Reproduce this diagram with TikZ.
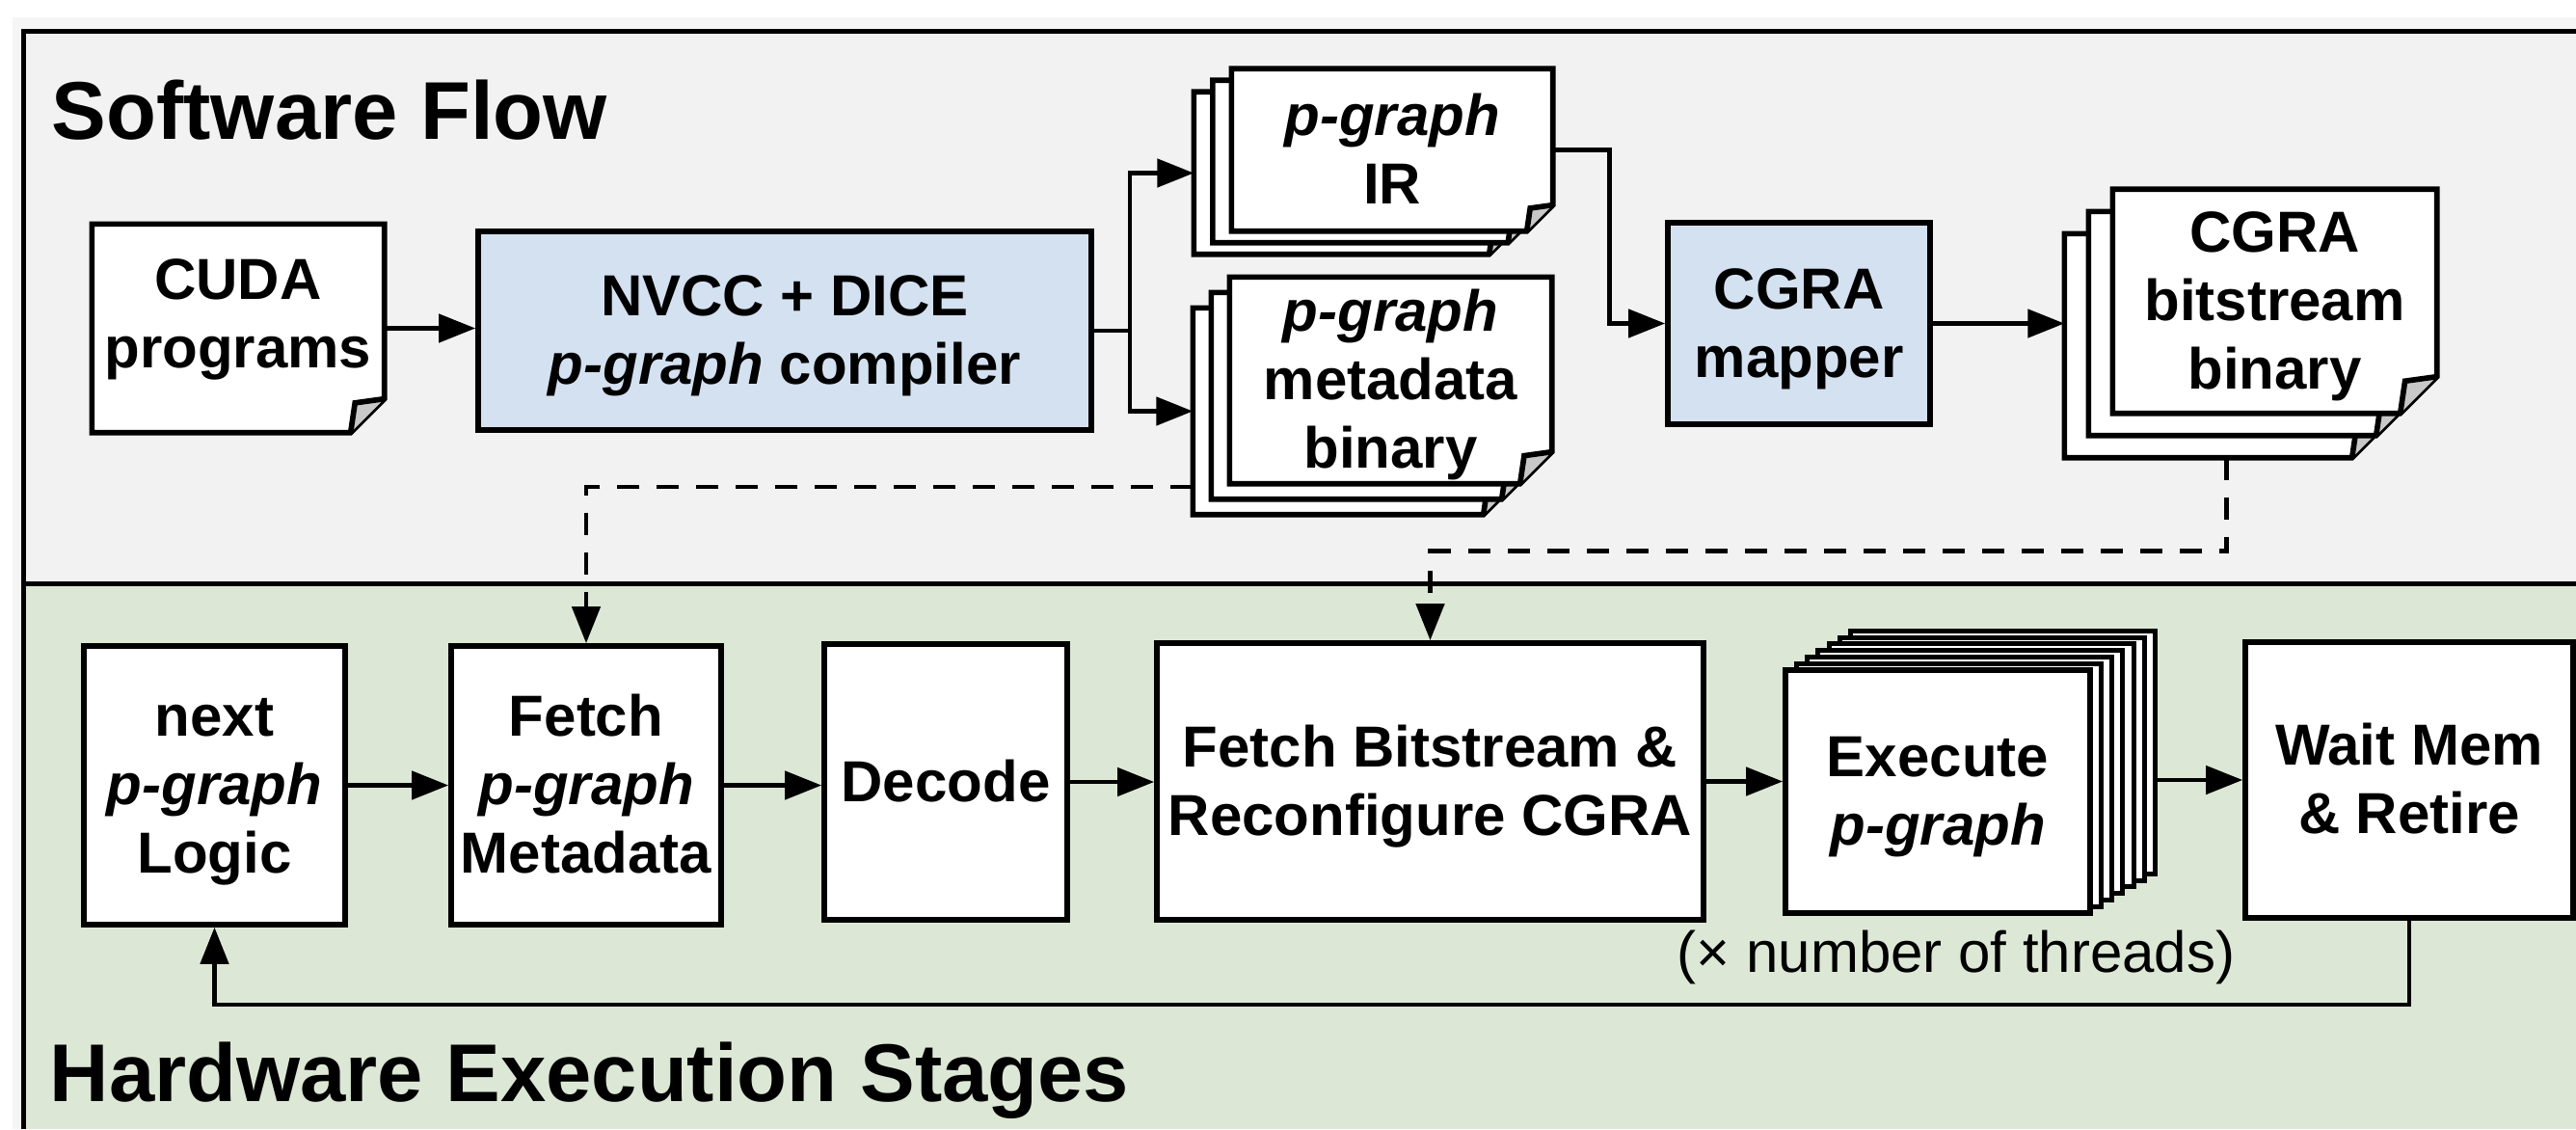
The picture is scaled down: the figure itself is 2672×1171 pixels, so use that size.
\documentclass[tikz,border=0pt]{standalone}
\usepackage{fontspec}
\setmainfont{Liberation Sans}
\usetikzlibrary{arrows.meta,calc}
\pgfdeclarelayer{panel}
\pgfdeclarelayer{docs}
\pgfsetlayers{panel,docs,main}
\definecolor{swgray}{HTML}{F2F2F2}
\definecolor{rimgray}{HTML}{F5F5F5}
\definecolor{hwgreen}{HTML}{DCE8D5}
\definecolor{cgblue}{HTML}{D4E1F1}
\definecolor{foldgray}{HTML}{C8C8C8}
\newcommand\lst{\rule[-0.21em]{0pt}{1.1em}}
\newcommand\pgtxt{\textit{p-graph}}
\newcommand\boxfont{\fontsize{18pt}{21.3pt}\selectfont\bfseries}
\newcommand\docshape[3]{%
  \draw[docline,fill=#3] (#1.north west) -- (#1.north east) -- ($(#1.south east)+(0,-#2)$) -- ($(#1.south east)+(-#2,0)$) -- (#1.south west) -- cycle;
  \draw[docline,fill=foldgray] ($(#1.south east)+(-#2,0)$) -- ($(#1.south east)+({-0.87*#2},{-0.88*#2})$) -- ($(#1.south east)+(0,-#2)$);
}
\begin{document}
\begin{tikzpicture}[x=0.3pt,y=-0.3pt,
  sz/.style 2 args={minimum width=#1*0.3pt,minimum height=#2*0.3pt,inner sep=0pt},
  txtbox/.style={align=center,font=\boxfont},
  hwbox/.style={draw,line width=1.7pt,fill=white,align=center,font=\boxfont},
  bluebox/.style={hwbox,fill=cgblue},
  layerbox/.style={draw,line width=1.5pt,fill=white},
  docline/.style={line width=1.7pt},
  panelline/.style={line width=1.5pt},
  title/.style={font=\fontsize{25.5pt}{30pt}\selectfont\bfseries,inner sep=0pt},
  arr/.style={line width=1.4pt,-{Triangle[length=11.4pt,width=8.7pt]}},
  darr/.style={arr,dash pattern=on 6.9pt off 5.4pt}]
\useasboundingbox (0,0) rectangle (2672,1171);
\begin{pgfonlayer}{panel}
  \fill[white] (0,0) rectangle (2672,1171);
  \fill[rimgray] (13,18) rectangle (2672,1171);
  \fill[swgray] (24,33) rectangle (2672,605);
  \fill[hwgreen] (24,605) rectangle (2672,1171);
  \draw[panelline] (2672,33) -- (24,33) -- (24,1171);
  \draw[panelline] (24,605) -- (2672,605);
\end{pgfonlayer}

% titles
\node[title,anchor=base west] (swtitle) at (53,144) {Software Flow};
\node[title,anchor=base west] (hwtitle) at (51,1142) {Hardware Execution Stages};

% software flow
\node[txtbox,sz={302}{215}] (cuda) at (247,340.5) {\lst CUDA\\\rule[-0.71em]{0pt}{1.6em}programs};
\node[bluebox,sz={636}{206}] (nvcc) at (814,343) {\lst NVCC + DICE\\\lst\pgtxt{} compiler};
\node[txtbox,sz={332}{167}] (ir) at (1444,155.5) {\lst\pgtxt\\\lst IR};
\node[txtbox,sz={332}{167}] (ir2) at ($(ir)+(-19.5,12)$) {};
\node[txtbox,sz={332}{167}] (ir3) at ($(ir)+(-39,24)$) {};
\node[txtbox,sz={333}{213}] (md) at (1442.5,394.5) {\lst\pgtxt\\\lst metadata\\\lst binary};
\node[txtbox,sz={333}{213}] (md2) at ($(md)+(-19,16)$) {};
\node[txtbox,sz={333}{213}] (md3) at ($(md)+(-38,32)$) {};
\node[bluebox,sz={272}{209}] (mapper) at (1866,335.5) {\lst CGRA\\\lst mapper};
\node[txtbox,sz={335}{231}] (bs) at (2359.5,312.5) {\lst CGRA\\\lst bitstream\\\lst binary};
\node[txtbox,sz={335}{231}] (bs2) at ($(bs)+(-25,23)$) {};
\node[txtbox,sz={335}{231}] (bs3) at ($(bs)+(-50,46)$) {};

\begin{pgfonlayer}{docs}
  \docshape{cuda}{35}{white}
  \docshape{ir3}{27}{white}
  \docshape{ir2}{27}{white}
  \docshape{ir}{27}{white}
  \docshape{md3}{33}{white}
  \docshape{md2}{33}{white}
  \docshape{md}{33}{white}
  \docshape{bs3}{38}{white}
  \docshape{bs2}{38}{white}
  \docshape{bs}{38}{white}
\end{pgfonlayer}

% hardware stages
\node[hwbox,sz={271}{289}] (next) at (222.5,814.5) {\lst next\\\lst\pgtxt\\\lst Logic};
\node[hwbox,sz={280}{289}] (fmeta) at (608,814.5) {\lst Fetch\\\lst\pgtxt\\\lst Metadata};
\node[hwbox,sz={252}{286}] (decode) at (981,811) {\lst Decode};
\node[hwbox,sz={567}{287}] (fbit) at (1483.5,810.5) {\lst Fetch Bitstream \&\\\lst Reconfigure CGRA};
\foreach \i in {6,5,...,1}
  \node[layerbox,sz={316}{252}] (ex\i) at ($(2010,821)+\i*(11.3,-6.8)$) {};
\node[hwbox,sz={316}{252}] (exec) at (2010,821) {\lst Execute\\\lst\pgtxt};
\node[hwbox,sz={340}{286}] (wait) at (2499,809) {\lst Wait Mem\\\lst\& Retire};
\node[font=\fontsize{18pt}{21.3pt}\selectfont,anchor=base,inner sep=0pt] (threads) at (2029,1008) {(× number of threads)};

% software connectors
\draw[arr] (cuda.east) -- (cuda.east -| nvcc.west);
\path (nvcc.east) ++(37,0) coordinate (br);
\draw[arr] (nvcc.east) -- (br) |- (ir3.west);
\draw[arr] (br) |- (md3.west);
\draw[arr] (ir.east) -- ++(59,0) |- (mapper.west);
\draw[arr] (mapper.east) -- (mapper.east -| bs3.west);

% dashed cross-panel connectors
\draw[darr] ($(md3.west)+(0,78.5)$) -| (fmeta.north);
\draw[darr] (bs3.south) -- ++(0,97) -| (fbit.north);

% hardware connectors
\draw[arr] (next.east) -- (next.east -| fmeta.west);
\draw[arr] (fmeta.east) -- (fmeta.east -| decode.west);
\draw[arr] (decode.east) -- (decode.east -| fbit.west);
\draw[arr] (fbit.east) -- (fbit.east -| exec.west);
\draw[arr] (ex6.east |- wait.west) -- (wait.west);
\draw[arr] (wait.south) -- ++(0,87) -| (next.south);
\end{tikzpicture}
\end{document}
